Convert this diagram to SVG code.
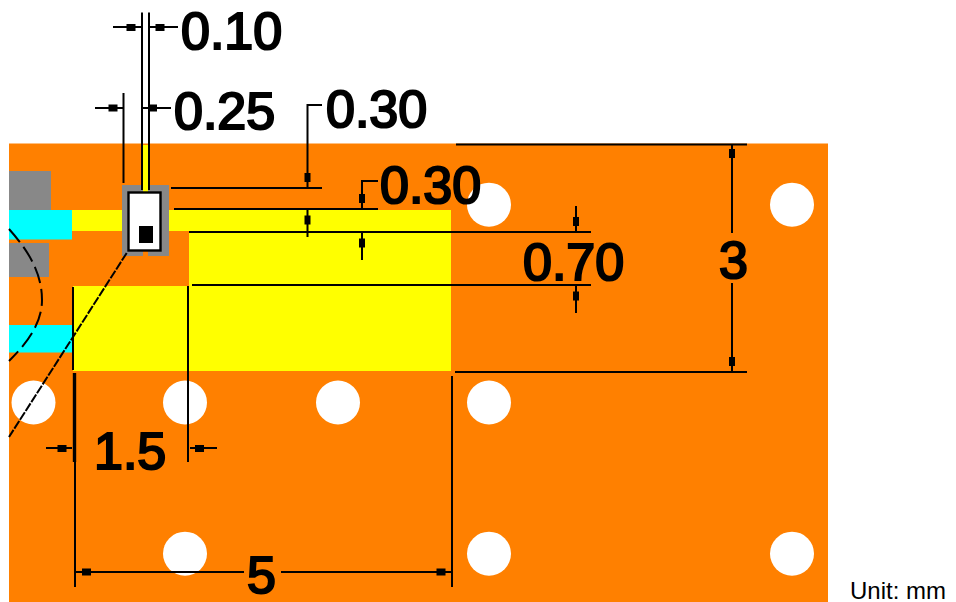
<svg xmlns="http://www.w3.org/2000/svg" width="956" height="602" viewBox="0 0 956 602">
<style>
.l{stroke:#000;stroke-width:2;fill:none}
.d{stroke:#000;stroke-width:2;fill:none;stroke-dasharray:9 1.5}
.c{stroke:#000;stroke-width:2;fill:none;stroke-dasharray:17 6}
.h{fill:#fff}
.y{fill:#ff0}
.g{fill:#888}
.b{fill:#0ff}
.t{font-family:"Liberation Sans",Arial,sans-serif;font-size:52px;fill:#000;stroke:#000;stroke-width:2.2}
.u{font-family:"Liberation Sans",Arial,sans-serif;font-size:24px;fill:#000}
</style>
<defs>
<rect id="sh" x="-4.5" y="-3.5" width="9" height="7" fill="#000"/>
<rect id="sv" x="-3" y="-4.5" width="6" height="9" fill="#000"/>
</defs>
<rect width="956" height="602" fill="#fff"/>
<g id="board">
<rect x="9" y="143.5" width="819" height="458.5" fill="#ff8000"/>
<rect class="g" x="9" y="171" width="42" height="39"/>
<rect class="g" x="9" y="243" width="40" height="34"/>
<rect class="b" x="9" y="210" width="63" height="29.5"/>
<rect class="b" x="9" y="325" width="63" height="27.5"/>
<rect class="y" x="72" y="210" width="379" height="21"/>
<rect class="y" x="189" y="231" width="262" height="140"/>
<rect class="y" x="73" y="286" width="378" height="85"/>
<rect class="y" x="143" y="145" width="5" height="48"/>
</g>
<g id="holes">
<circle class="h" cx="489" cy="204.7" r="22"/>
<circle class="h" cx="792" cy="204.7" r="22"/>
<circle class="h" cx="33.5" cy="402.5" r="22"/>
<circle class="h" cx="185" cy="402.5" r="22"/>
<circle class="h" cx="338" cy="402.5" r="22"/>
<circle class="h" cx="489" cy="402.5" r="22"/>
<circle class="h" cx="185" cy="553.7" r="22"/>
<circle class="h" cx="489" cy="553.7" r="22"/>
<circle class="h" cx="792" cy="553.7" r="22"/>
</g>
<g id="component">
<path class="g" d="M122 185H169V256H148V251H143V256H122Z"/>
<rect class="y" x="143" y="185" width="5" height="7"/>
<rect x="128.5" y="192.5" width="32" height="58" fill="#fff" stroke="#000" stroke-width="2.4"/>
<rect x="139" y="226" width="14" height="17" fill="#000"/>
</g>
<g id="connectors">
<path class="d" d="M126.7 253L9 437"/>
<path class="c" d="M9 229C25 247 42 270 42 300C42 325 25 345 9 361"/>
<path class="l" d="M142 12.5V190M149 12.5V190M113 27H141M150 27H178"/>
<path class="l" d="M123.5 93V183M95 108H123M143 108H171"/>
<path class="l" d="M322 105H307.5V188M171 188H322M174 209H378M189 232H591M192 285H591M307.5 210V237"/>
<path class="l" d="M378 181H362V208M362 233V260"/>
<path class="l" d="M576 206V231M576 286V313"/>
<path class="l" d="M456 144.5H747M455 372H747M732 145V233M732 283V371"/>
<path class="l" d="M452 376V587M75 462V587M188 286V462M73 287V370M46 448H72M190 448H217"/>
<path d="M74.5 373V462" stroke="#000" stroke-width="3.4" fill="none"/>
<path class="l" d="M76 572H244M281 572H452"/>
<g>
<use href="#sh" x="131" y="27.5"/><use href="#sh" x="160" y="27.5"/>
<use href="#sh" x="113" y="108"/><use href="#sh" x="152.5" y="108"/>
<use href="#sh" x="62" y="448.5"/><use href="#sh" x="199.5" y="448.5"/>
<use href="#sh" x="86.5" y="572"/><use href="#sh" x="441" y="572"/>
<use href="#sv" x="307.5" y="177.5"/><use href="#sv" x="307.5" y="220"/>
<use href="#sv" x="362" y="198.5"/><use href="#sv" x="362" y="243"/>
<use href="#sv" x="576" y="221.5"/><use href="#sv" x="576" y="296"/>
<use href="#sv" x="732" y="153.5"/><use href="#sv" x="732" y="361.5"/>
</g>
</g>
<g id="labels">
<text class="t" x="181" y="49">0.10</text>
<text class="t" x="174" y="129">0.25</text>
<text class="t" x="326" y="127">0.30</text>
<text class="t" x="380" y="203">0.30</text>
<text class="t" x="523" y="280">0.70</text>
<text class="t" x="719" y="278">3</text>
<text class="t" x="94" y="469">1.5</text>
<text class="t" x="247" y="593">5</text>
<text class="u" x="850" y="599">Unit: mm</text>
</g>
</svg>
